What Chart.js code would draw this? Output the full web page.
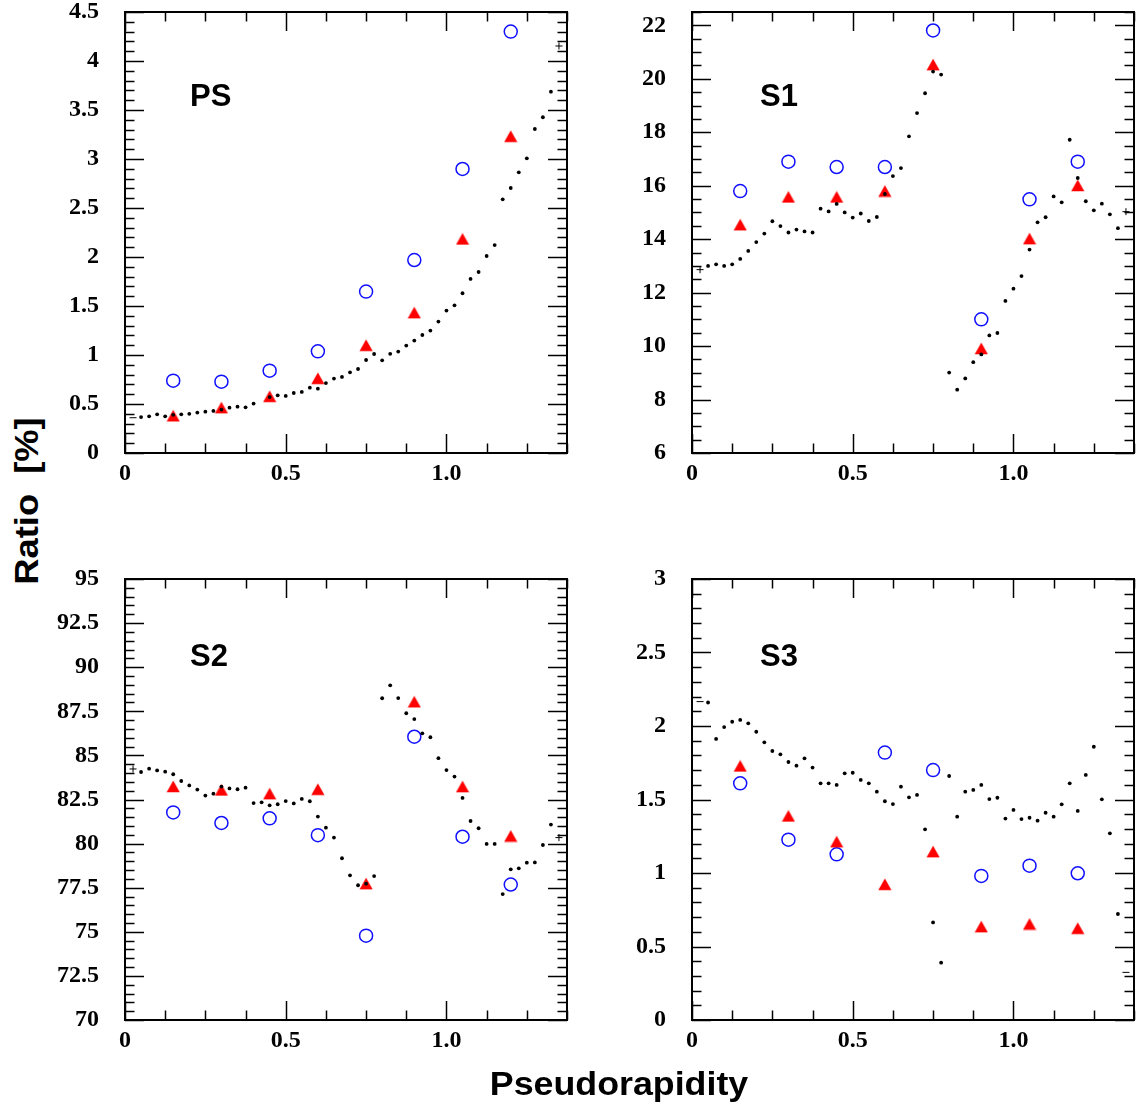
<!DOCTYPE html>
<html><head><meta charset="utf-8">
<script src="https://cdn.jsdelivr.net/npm/chart.js@4.4.0/dist/chart.umd.min.js"></script>
<style>
html,body{margin:0;padding:0;background:#fff;}
#wrap{position:relative;width:1136px;height:1108px;background:#fff;overflow:hidden;}
canvas{position:absolute;}
.lbl{position:absolute;font-family:'Liberation Sans',Arial,sans-serif;font-weight:bold;color:#000;white-space:pre;}
</style></head><body>
<div id="wrap">
<canvas id="cPS" width="532" height="503" style="left:45px;top:0px"></canvas>
<canvas id="cS1" width="532" height="503" style="left:612px;top:0px"></canvas>
<canvas id="cS2" width="532" height="503" style="left:45px;top:567px"></canvas>
<canvas id="cS3" width="532" height="503" style="left:612px;top:567px"></canvas>
<div class="lbl" style="left:190px;top:80px;font-size:31px;line-height:31px">PS</div>
<div class="lbl" style="left:760px;top:80px;font-size:31px;line-height:31px">S1</div>
<div class="lbl" style="left:190px;top:640px;font-size:31px;line-height:31px">S2</div>
<div class="lbl" style="left:760px;top:640px;font-size:31px;line-height:31px">S3</div>
<div class="lbl" style="left:319px;width:600px;text-align:center;top:1067px;font-size:33px;line-height:33px;transform:scaleX(1.084)">Pseudorapidity</div>
<div class="lbl" style="left:25.6px;top:501px;font-size:33px;line-height:33px;transform:translate(-50%,-50%) rotate(-90deg) scaleX(1.1)">Ratio  [%]</div>
</div>
<script>
// ---- data ----
const eta = [0.025,0.05,0.075,0.1,0.125,0.15,0.175,0.2,0.225,0.25,0.275,0.3,0.325,0.35,0.375,0.4,0.425,0.45,0.475,0.5,
  0.525,0.55,0.575,0.6,0.625,0.65,0.675,0.7,0.725,0.75,0.775,0.8,0.825,0.85,0.875,0.9,0.925,0.95,0.975,1.0,
  1.025,1.05,1.075,1.1,1.125,1.15,1.175,1.2,1.225,1.25,1.275,1.3,1.325,1.35];
const etaMarkers = [0.15,0.3,0.45,0.6,0.75,0.9,1.05,1.2];

const psDots = [0.36,0.367,0.374,0.395,0.374,0.39,0.395,0.40,0.412,0.422,
  0.429,0.443,0.463,0.473,0.466,0.504,null,0.571,0.589,0.582,
  0.612,0.623,0.667,0.656,0.714,0.759,0.776,0.823,0.857,0.949,
  1.01,0.946,1.012,1.035,1.096,1.147,1.204,1.249,1.341,1.453,
  1.507,1.63,1.776,1.847,2.01,2.122,2.589,2.704,2.864,3.007,
  3.306,3.426,3.687,4.153];
const psTri = [0.38,0.463,0.578,0.762,1.099,1.432,2.184,3.232];
const psCirc = [0.738,0.728,0.84,1.037,1.647,1.969,2.898,4.30];

const s1Dots = [12.86,13.0,13.06,13.0,13.06,13.26,13.56,13.89,14.21,14.67,
  14.49,14.25,14.36,14.29,14.25,15.14,15.04,15.32,15.0,14.81,
  14.96,14.68,14.83,15.69,16.36,16.66,17.85,18.72,19.46,20.27,
  20.16,9.01,8.37,8.79,9.40,9.69,10.40,10.49,11.69,12.15,
  12.62,13.61,14.63,14.82,15.60,15.38,17.72,16.29,15.42,15.08,
  15.33,14.93,14.41,15.03];
const s1Tri = [14.54,15.58,15.58,15.80,20.53,9.91,14.02,16.01];
const s1Circ = [15.80,16.90,16.70,16.70,21.81,11.0,15.49,16.90];

const s2Dots = [84.23,84.06,84.25,84.15,84.08,83.93,83.55,83.30,83.06,82.72,
  82.83,83.23,83.13,83.08,83.17,82.30,82.34,82.17,82.23,82.41,
  82.28,82.53,82.40,81.53,80.90,80.34,79.17,78.20,77.64,77.73,
  78.16,88.24,88.97,88.25,87.39,87.06,86.25,86.03,84.84,84.17,
  83.80,82.59,81.28,80.87,79.98,79.98,77.14,78.54,78.60,78.92,
  78.93,79.92,81.08,80.34];
const s2Tri = [83.24,83.04,82.83,83.08,77.73,88.04,83.23,80.43];
const s2Circ = [81.77,81.17,81.43,80.48,74.78,86.06,80.39,77.68];

const s3Dots = [2.166,2.16,1.912,1.993,2.029,2.041,2.018,1.961,1.889,1.830,
  1.807,1.755,1.730,1.780,1.717,1.610,1.610,1.599,1.678,1.682,
  1.633,1.610,1.553,1.488,1.469,1.587,1.515,1.531,1.297,0.664,
  0.390,1.660,1.383,1.553,1.565,1.599,1.503,1.512,1.370,1.429,
  1.367,1.376,1.356,1.410,1.383,1.467,1.610,1.422,1.667,1.859,
  1.501,1.270,0.721,0.324];
const s3Tri = [1.728,1.388,1.213,0.923,1.145,0.635,0.653,0.624];
const s3Circ = [1.61,1.227,1.127,1.819,1.70,0.980,1.050,0.998];

const xTickValues = [0,0.5,1.0];
const xTickLabels = ['0','0.5','1.0'];
const psYTicks = [0,0.5,1,1.5,2,2.5,3,3.5,4,4.5];
const psYLabels = ['0','0.5','1','1.5','2','2.5','3','3.5','4','4.5'];
const s1YTicks = [6,8,10,12,14,16,18,20,22];
const s1YLabels = ['6','8','10','12','14','16','18','20','22'];
const s2YTicks = [70,72.5,75,77.5,80,82.5,85,87.5,90,92.5,95];
const s2YLabels = ['70','72.5','75','77.5','80','82.5','85','87.5','90','92.5','95'];
const s3YTicks = [0,0.5,1,1.5,2,2.5,3];
const s3YLabels = ['0','0.5','1','1.5','2','2.5','3'];

// ---- marker image: triangle centred on its bounding box ----
const triImg = document.createElement('canvas');
triImg.width = 14; triImg.height = 13;
(function () {
  const c = triImg.getContext('2d');
  c.fillStyle = '#ff0000';
  c.beginPath();
  c.moveTo(7, 0.5); c.lineTo(13.6, 12.3); c.lineTo(0.4, 12.3); c.closePath();
  c.fill();
})();

// ---- drawing ----
const frameTicks = {
  id: 'frameTicks',
  beforeDatasetsDraw(chart) {
    const o = chart.options.plugins.frameTicks;
    const {ctx, chartArea: a, scales: {x, y}} = chart;
    ctx.save();
    ctx.strokeStyle = '#000';
    ctx.lineWidth = 1.5;
    const seg = (x1, y1, x2, y2) => { ctx.beginPath(); ctx.moveTo(x1, y1); ctx.lineTo(x2, y2); ctx.stroke(); };
    const nx = Math.round((x.max - x.min) / o.xMinor);
    for (let n = 0; n <= nx; n++) {
      const v = x.min + n * o.xMinor;
      const r = (v - x.min) / o.xMajor;
      const len = Math.abs(r - Math.round(r)) < 1e-6 ? 19 : 9.5;
      const px = Math.round(x.getPixelForValue(v)) + 0.5;
      seg(px, a.bottom, px, a.bottom - len);
      seg(px, a.top, px, a.top + len);
    }
    const ny = Math.round((y.max - y.min) / o.yMinor);
    for (let n = 0; n <= ny; n++) {
      const v = y.min + n * o.yMinor;
      const r = (v - y.min) / o.yMajor;
      const len = Math.abs(r - Math.round(r)) < 1e-6 ? 19 : 9.5;
      const py = Math.round(y.getPixelForValue(v)) + 0.5;
      seg(a.left, py, a.left + len, py);
      seg(a.right, py, a.right - len, py);
    }
    ctx.lineWidth = 2;
    ctx.strokeRect(a.left, a.top, a.right - a.left, a.bottom - a.top);
    ctx.restore();
  }
};

const tickFont = {family: "'Liberation Serif', 'Times New Roman', serif", weight: 'bold', size: 24};

function zeroPad(s) { s.paddingTop = 0; s.paddingBottom = 0; s.paddingLeft = 0; s.paddingRight = 0; }

function makePanel(id, dots, tri, circ, yMin, yMax, yTicks, yLabels, yMinor, yMajor, edgeStyles) {
  const last = eta.length - 1;
  const isEdge = i => i === 0 || i === last;
  new Chart(document.getElementById(id), {
    type: 'scatter',
    data: {
      datasets: [
        {
          data: eta.map((x, i) => ({x, y: dots[i]})),
          pointStyle: c => c.dataIndex === 0 ? edgeStyles[0] : (c.dataIndex === last ? edgeStyles[1] : 'circle'),
          pointRadius: c => isEdge(c.dataIndex) ? 3.5 : 1.9,
          pointBackgroundColor: '#000',
          pointBorderColor: '#000',
          pointBorderWidth: c => isEdge(c.dataIndex) ? 1 : 0,
          showLine: false
        },
        {
          data: etaMarkers.map((x, i) => ({x, y: tri[i]})),
          pointStyle: triImg,
          pointRadius: 7,
          pointBackgroundColor: '#ff0000',
          pointBorderColor: '#ff0000',
          pointBorderWidth: 0,
          showLine: false
        },
        {
          data: etaMarkers.map((x, i) => ({x, y: circ[i]})),
          pointStyle: 'circle',
          pointRadius: 6.5,
          pointBackgroundColor: 'rgba(0,0,0,0)',
          pointBorderColor: '#1010ff',
          pointBorderWidth: 1.5,
          showLine: false
        }
      ]
    },
    options: {
      responsive: false,
      animation: false,
      events: [],
      layout: {padding: {top: 12, right: 10, left: 0, bottom: 0}},
      plugins: {
        legend: {display: false},
        tooltip: {enabled: false},
        frameTicks: {xMinor: 0.125, xMajor: 0.5, yMinor: yMinor, yMajor: yMajor}
      },
      scales: {
        x: {
          type: 'linear', min: 0, max: 1.375,
          afterFit: s => { s.height = 50; zeroPad(s); },
          afterBuildTicks: s => { s.ticks = xTickValues.map(v => ({value: v})); },
          grid: {display: false, drawTicks: false},
          border: {display: false},
          ticks: {padding: 6, font: tickFont, color: '#000', autoSkip: false, maxRotation: 0,
            callback: v => xTickLabels[xTickValues.indexOf(v)]}
        },
        y: {
          type: 'linear', min: yMin, max: yMax,
          afterFit: s => { s.width = 80; zeroPad(s); },
          afterBuildTicks: s => { s.ticks = yTicks.map(v => ({value: v})); },
          grid: {display: false, drawTicks: false},
          border: {display: false},
          ticks: {padding: 26, font: tickFont, color: '#000', autoSkip: false,
            callback: v => yLabels[yTicks.indexOf(v)]}
        }
      }
    },
    plugins: [frameTicks]
  });
}

makePanel('cPS', psDots, psTri, psCirc, 0, 4.5, psYTicks, psYLabels, 0.1, 0.5, ['line', 'cross']);
makePanel('cS1', s1Dots, s1Tri, s1Circ, 6, 22.5, s1YTicks, s1YLabels, 0.5, 2, ['cross', 'cross']);
makePanel('cS2', s2Dots, s2Tri, s2Circ, 70, 95, s2YTicks, s2YLabels, 0.5, 2.5, ['cross', 'cross']);
makePanel('cS3', s3Dots, s3Tri, s3Circ, 0, 3, s3YTicks, s3YLabels, 0.1, 0.5, ['line', 'line']);
</script>
</body></html>
